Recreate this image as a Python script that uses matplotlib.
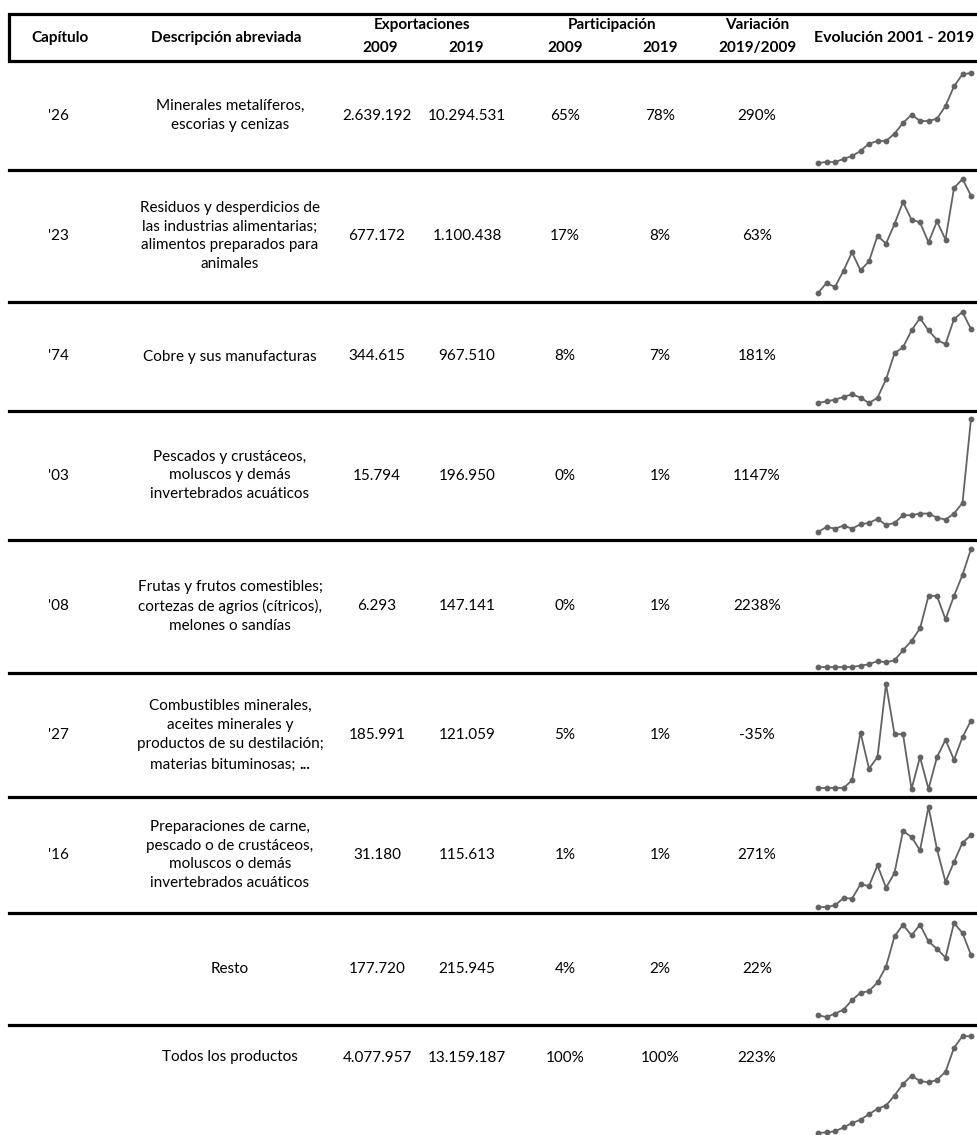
import matplotlib.pyplot as plt

plt.rcParams['font.family'] = ['Lato', 'DejaVu Sans']

capitulos = ["'26", "'23", "'74", "'03", "'08", "'27", "'16", "", ""]
descripciones = [
    "Minerales metalíferos,\nescorias y cenizas",
    "Residuos y desperdicios de\nlas industrias alimentarias;\nalimentos preparados para\nanimales",
    "Cobre y sus manufacturas",
    "Pescados y crustáceos,\nmoluscos y demás\ninvertebrados acuáticos",
    "Frutas y frutos comestibles;\ncortezas de agrios (cítricos),\nmelones o sandías",
    "Combustibles minerales,\naceites minerales y\nproductos de su destilación;",
    "Preparaciones de carne,\npescado o de crustáceos,\nmoluscos o demás\ninvertebrados acuáticos",
    "Resto",
    "Todos los productos",
]
exp_2009 = ["2.639.192", "677.172", "344.615", "15.794", "6.293", "185.991", "31.180", "177.720", "4.077.957"]
exp_2019 = ["10.294.531", "1.100.438", "967.510", "196.950", "147.141", "121.059", "115.613", "215.945", "13.159.187"]
part_2009 = ["65%", "17%", "8%", "0%", "0%", "5%", "1%", "4%", "100%"]
part_2019 = ["78%", "8%", "7%", "1%", "1%", "1%", "1%", "2%", "100%"]
variacion = ["290%", "63%", "181%", "1147%", "2238%", "-35%", "271%", "22%", "223%"]

years = list(range(2001, 2020))
# sparkline series (relative level)
evo_26 = [2, 5, 5, 14, 23, 38, 60, 68, 68, 90, 122, 147, 128, 128, 135, 173, 232, 268, 272]
evo_23 = [10, 40, 28, 77, 132, 78, 105, 182, 158, 217, 283, 230, 222, 162, 225, 170, 325, 352, 302]
evo_74 = [12, 17, 22, 30, 38, 28, 12, 28, 82, 160, 178, 228, 265, 228, 200, 187, 262, 283, 232]
evo_03 = [15, 30, 25, 34, 25, 38, 42, 54, 36, 42, 65, 65, 70, 70, 58, 52, 70, 102, 352]
evo_08 = [10, 10, 10, 10, 10, 14, 18, 28, 24, 30, 60, 88, 125, 222, 222, 152, 222, 285, 362]
evo_27 = [15, 15, 15, 15, 38, 182, 73, 108, 328, 177, 177, 12, 108, 12, 108, 160, 100, 168, 218]
evo_16 = [10, 10, 15, 37, 35, 78, 73, 135, 68, 112, 238, 220, 180, 310, 183, 85, 145, 203, 225]
evo_resto = [10, 5, 15, 27, 55, 77, 82, 108, 155, 245, 280, 248, 280, 230, 208, 182, 285, 255, 190]
evo_total = [5, 7, 10, 22, 35, 45, 62, 78, 88, 118, 153, 178, 162, 158, 165, 190, 262, 298, 297]
evoluciones = [evo_26, evo_23, evo_74, evo_03, evo_08, evo_27, evo_16, evo_resto, evo_total]

W, H = 978, 1135
fig = plt.figure(figsize=(W / 100, H / 100), dpi=100)
ax = fig.add_axes([0, 0, 1, 1])
ax.set_xlim(0, W)
ax.set_ylim(H, 0)
ax.axis('off')
renderer = fig.canvas.get_renderer()

fs = 11
lw = 2.3
ls = 1.42  # gives roughly 20 px between wrapped lines

# header box
ax.plot([W, 9, 9, W], [14, 14, 61, 61], color='black', lw=lw, solid_joinstyle='miter')
hdr = dict(ha='center', va='center', fontsize=fs, fontweight='bold')
ax.text(60, 38, "Capítulo", **hdr)
ax.text(226, 38, "Descripción abreviada", **hdr)
ax.text(422, 25, "Exportaciones", **hdr)
ax.text(380, 48, "2009", **hdr)
ax.text(466, 48, "2019", **hdr)
ax.text(612, 25, "Participación", **hdr)
ax.text(565, 48, "2009", **hdr)
ax.text(660, 48, "2019", **hdr)
ax.text(757, 25, "Variación", **hdr)
ax.text(757, 48, "2019/2009", **hdr)
ax.text(814, 38, "Evolución 2001 - 2019", ha='left', va='center', fontsize=fs + 0.4, fontweight='bold')

row_edges = [61, 170, 302, 411, 540, 673, 797, 913, 1025, 1090]
spark_y = [(73, 163), (179, 293), (312, 403), (419, 532), (549, 667),
           (684, 789), (807, 907), (923, 1017), (1036, 1133)]

body = dict(ha='center', va='center', fontsize=fs, linespacing=ls)
for i in range(len(capitulos)):
    top, bot = row_edges[i], row_edges[i + 1]
    yc = (top + bot) / 2
    if i < len(capitulos) - 1:
        ax.plot([9, W], [bot, bot], color='black', lw=lw)
    ax.text(58, yc, capitulos[i], **body)
    if i == 5:
        # three lines plus a fourth with a bold ellipsis, centred together
        ax.text(230, yc - 10, descripciones[i], **body)
        t1 = ax.text(0, yc + 30, "materias bituminosas; ", ha='left', va='center', fontsize=fs)
        t2 = ax.text(0, yc + 30, "...", ha='left', va='center', fontsize=fs, fontweight='bold')
        w1 = t1.get_window_extent(renderer).width
        w2 = t2.get_window_extent(renderer).width
        x0 = 230 - (w1 + w2) / 2
        t1.set_x(x0)
        t2.set_x(x0 + w1)
    else:
        ax.text(230, yc, descripciones[i], **body)
    ax.text(377, yc, exp_2009[i], **body)
    ax.text(467, yc, exp_2019[i], **body)
    ax.text(565, yc, part_2009[i], **body)
    ax.text(660, yc, part_2019[i], **body)
    ax.text(757, yc, variacion[i], **body)

    # sparkline
    y0, y1 = spark_y[i]
    sax = fig.add_axes([818 / W, 1 - y1 / H, (971 - 818) / W, (y1 - y0) / H])
    vals = evoluciones[i]
    sax.plot(years, vals, color='#636363', lw=1.3, marker='o', ms=3.2,
             markerfacecolor='#636363', markeredgecolor='#636363')
    sax.set_xlim(years[0], years[-1])
    sax.set_ylim(min(vals), max(vals))
    sax.axis('off')
    for line in sax.lines:
        line.set_clip_on(False)

fig.savefig('out.png', dpi=100)
